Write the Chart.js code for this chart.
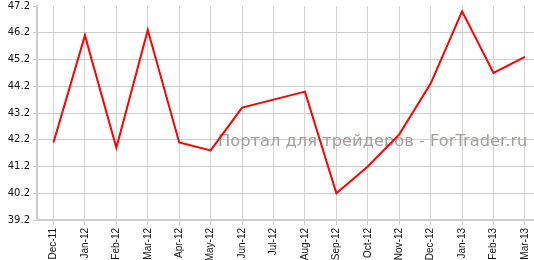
<!DOCTYPE html>
<html>
<head>
<meta charset="utf-8">
<script src="https://cdn.jsdelivr.net/npm/chart.js@4"></script>
<style>
html,body{margin:0;padding:0;overflow:hidden;background:#fff;}
#wrap{position:absolute;left:0;top:-3px;width:560px;height:263px;}
</style>
</head>
<body>
<div id="wrap"><canvas id="c"></canvas></div>
<script>
const categories = ["Dec-11","Jan-12","Feb-12","Mar-12","Apr-12","May-12","Jun-12","Jul-12","Aug-12","Sep-12","Oct-12","Nov-12","Dec-12","Jan-13","Feb-13","Mar-13"];
const values = [42.1, 46.1, 41.9, 46.3, 42.1, 41.8, 43.4, 43.7, 44.0, 40.2, 41.2, 42.4, 44.3, 47.0, 44.7, 45.3];
const yMin = 39.2;
const yMax = 47.2;
const yStep = 1;
const watermark = "Портал для трейдеров - ForTrader.ru";

const watermarkPlugin = {
  id: 'watermark',
  beforeDatasetsDraw(chart) {
    const ctx = chart.ctx;
    ctx.save();
    ctx.font = '16.3px "DejaVu Sans"';
    ctx.fillStyle = '#a89c9c';
    ctx.textBaseline = 'alphabetic';
    ctx.textAlign = 'left';
    ctx.fillText(watermark, 218, 149);
    ctx.restore();
  }
};

new Chart(document.getElementById('c'), {
  type: 'line',
  data: {
    datasets: [{
      data: values.map((v, i) => ({ x: i, y: v })),
      borderColor: '#ff0000',
      borderWidth: 2,
      pointRadius: 0,
      tension: 0,
      fill: false
    }]
  },
  options: {
    responsive: true,
    maintainAspectRatio: false,
    animation: false,
    devicePixelRatio: 1,
    layout: { padding: { top: 0, right: 0, left: 0, bottom: 0 } },
    plugins: { legend: { display: false }, tooltip: { enabled: false } },
    scales: {
      x: {
        type: 'linear',
        min: -0.525,
        max: 16.115,
        border: { display: true, color: '#cccccc', width: 2 },
        grid: { color: '#d4d4d4', lineWidth: 1, tickLength: 5, tickColor: '#cccccc' },
        afterBuildTicks(scale) { scale.ticks = categories.map((_, i) => ({ value: i })); },
        ticks: {
          color: '#111',
          font: { family: '"Liberation Sans", Arial, sans-serif', size: 10 },
          minRotation: 90, maxRotation: 90, padding: 3, autoSkip: false,
          callback: (v) => categories[Math.round(v)]
        },
        afterFit(scale) { scale.height = 40; }
      },
      y: {
        min: yMin, max: yMax,
        border: { display: true, color: '#cccccc', width: 2 },
        grid: {
          color: (c) => (c.tick && Math.abs(c.tick.value - yMax) < 1e-6) ? 'rgba(0,0,0,0)' : '#cccccc',
          tickColor: '#cccccc',
          lineWidth: 1, tickLength: 4
        },
        ticks: {
          stepSize: yStep,
          color: '#111',
          padding: 3,
          font: { family: '"DejaVu Sans", sans-serif', size: 10 },
          callback: (v) => Number(v).toFixed(1)
        },
        afterFit(scale) { scale.width = 37; }
      }
    }
  },
  plugins: [watermarkPlugin]
});
</script>
</body>
</html>
